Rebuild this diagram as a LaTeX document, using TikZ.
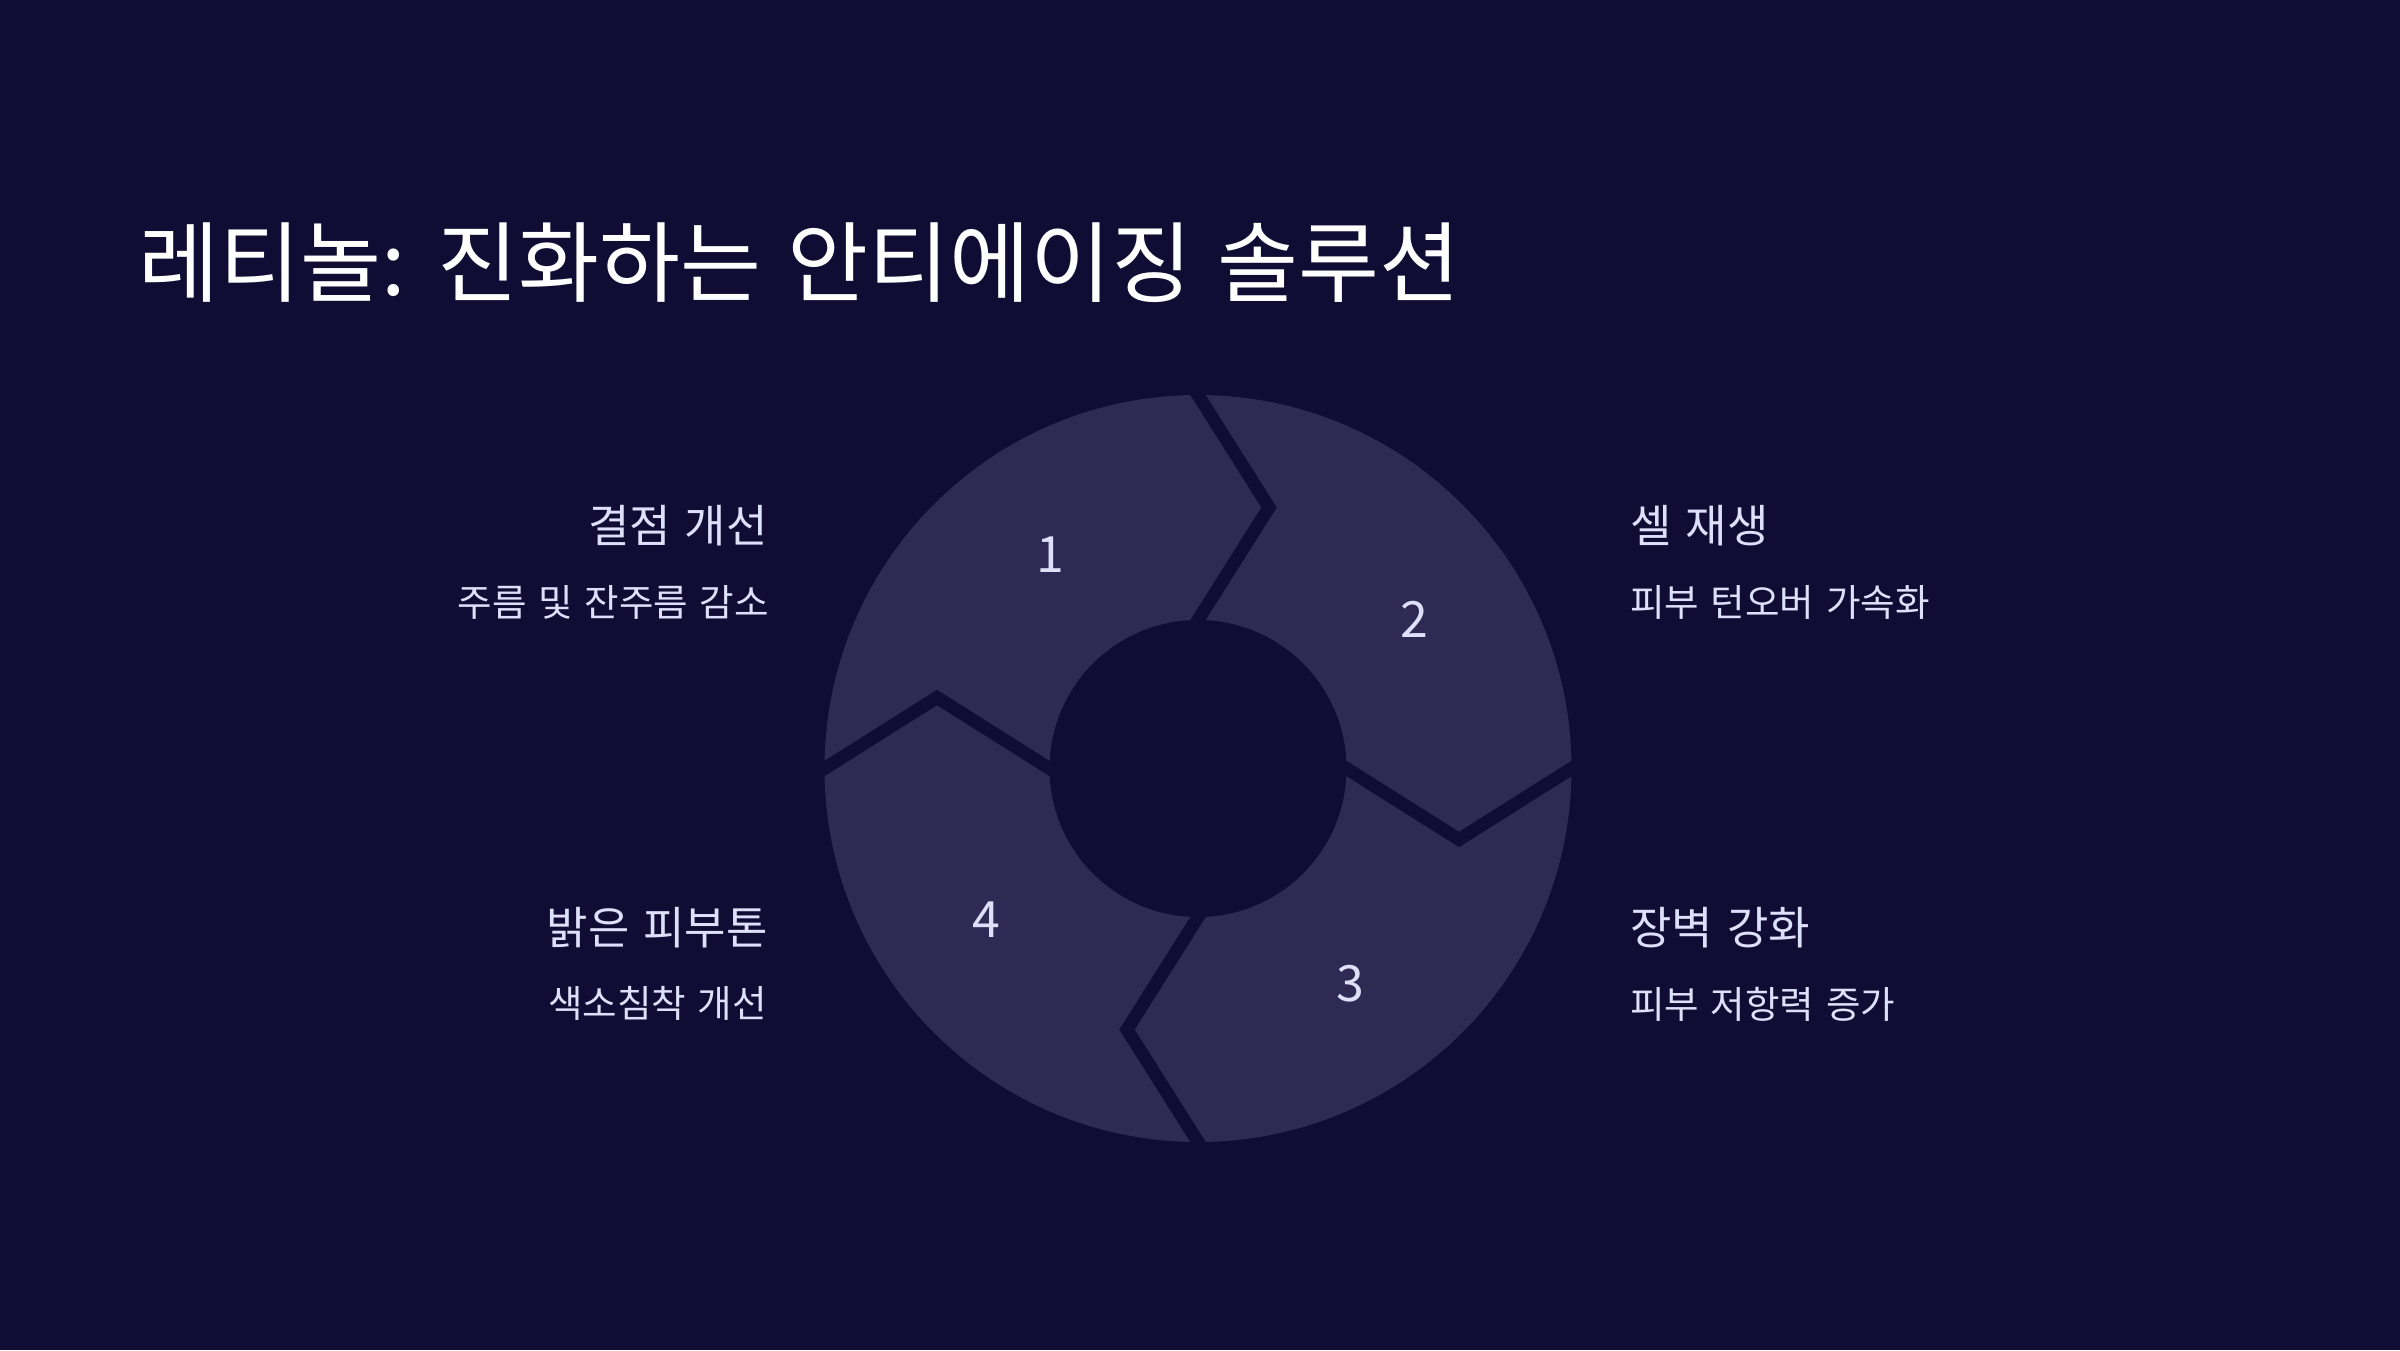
\documentclass[tikz,border=0pt]{standalone}
\usepackage{fontspec}
\setmainfont[WordSpace=1.4]{Noto Sans CJK KR}
\newfontfamily\titlefont[WordSpace=1.3]{Noto Sans CJK KR}
\usetikzlibrary{calc}
\definecolor{bgc}{RGB}{17,12,52}
\definecolor{segc}{RGB}{47,42,84}
\definecolor{txtc}{RGB}{222,224,250}
\begin{document}
\begin{tikzpicture}[x=1pt,y=1pt,
  ttl/.style={text=white, inner sep=0pt, anchor=west, font=\titlefont\fontsize{88}{98}\selectfont},
  head/.style={text=txtc, inner sep=0pt, font=\fontsize{45}{50}\selectfont},
  subtxt/.style={text=txtc, inner sep=0pt, font=\fontsize{37.5}{42}\selectfont},
  num/.style={text=txtc, inner sep=0pt, font=\fontsize{50}{56}\selectfont},
  sepline/.style={draw=bgc, line width=13pt, line join=miter, miter limit=10}]
\fill[bgc] (0,0) rectangle (2400,1350);
\useasboundingbox (0,0) rectangle (2400,1350);

\node[ttl] (title) at (138,1087.5) {레티놀: 진화하는 안티에이징 솔루션};

\coordinate (C) at (1198,581.5);
\fill[segc] (C) circle (373.5);
\foreach \a [count=\i] in {90,0,-90,180}{
  \coordinate (O\i) at ($(C)+(\a:373.5)$);
  \coordinate (T\i) at ($(C)+(\a:261)+({\a-90}:71)$);
  \coordinate (I\i) at ($(C)+(\a:148.5)$);
  \draw[sepline] ($(T\i)!1.25!(O\i)$) -- (T\i) -- ($(T\i)!1.25!(I\i)$);
}
\fill[bgc] (C) circle (148.5);

\node[num] (n1) at (1050,795) {1};
\node[num] (n2) at (1414,730.5) {2};
\node[num] (n3) at (1350,366.5) {3};
\node[num] (n4) at (986,430) {4};

\node[head, anchor=east] (h1) at (768,824) {결점 개선};
\node[subtxt, anchor=east] (s1) at (769,748) {주름 및 잔주름 감소};
\node[head, anchor=west] (h2) at (1630,824) {셀 재생};
\node[subtxt, anchor=west] (s2) at (1630,748) {피부 턴오버 가속화};
\node[head, anchor=west] (h3) at (1630,422.5) {장벽 강화};
\node[subtxt, anchor=west] (s3) at (1630,346) {피부 저항력 증가};
\node[head, anchor=east] (h4) at (768,422.5) {밝은 피부톤};
\node[subtxt, anchor=east] (s4) at (767,347) {색소침착 개선};
\end{tikzpicture}
\end{document}
